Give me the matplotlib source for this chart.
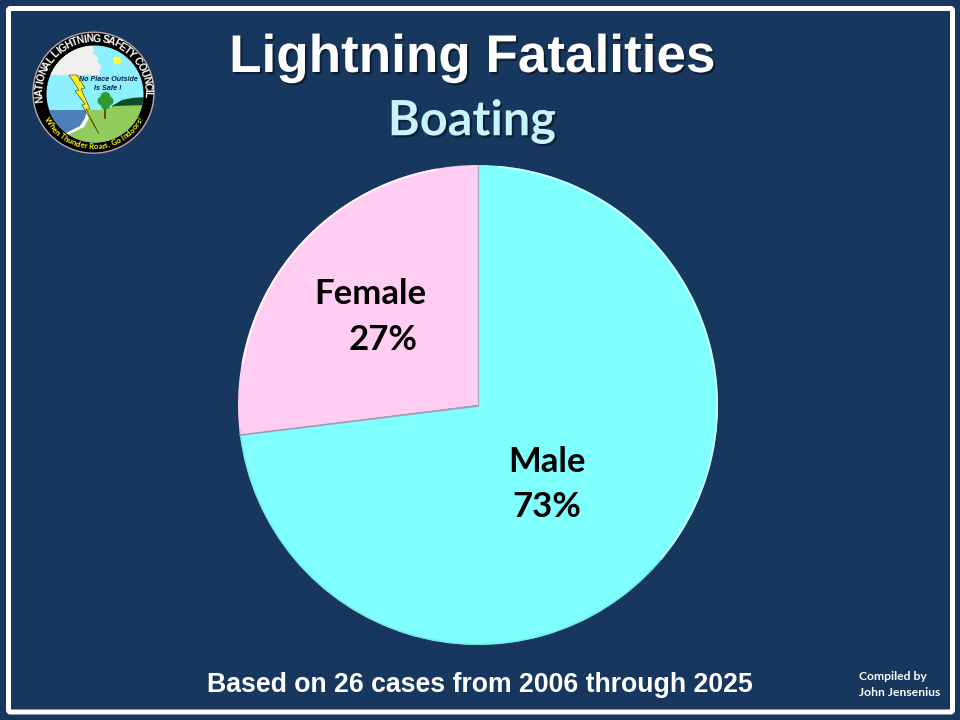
import numpy as np
import matplotlib
matplotlib.use("Agg")
import matplotlib.pyplot as plt
import matplotlib.patheffects as pe
from matplotlib.font_manager import FontProperties
from matplotlib.textpath import TextToPath
from matplotlib.patches import Circle, FancyBboxPatch, Polygon, Rectangle

categories = ["Male", "Female"]
shares = [73, 27]
slice_colors = ["#80FFFF", "#FFCCF2"]
title = "Lightning Fatalities"
subtitle = "Boating"
footer = "Based on 26 cases from 2006 through 2025"
credit = ["Compiled by", "John Jensenius"]
logo_top = "NATIONAL LIGHTNING SAFETY COUNCIL"
logo_bottom = "When Thunder Roars, Go Indoors!"
logo_mid = ["No Place Outside", "Is Safe !"]

BG = "#17375E"
W, H = 960, 720
fig = plt.figure(figsize=(9.6, 7.2), dpi=100, facecolor=BG)

bg = fig.add_axes([0, 0, 1, 1], zorder=0)
bg.set_xlim(0, W); bg.set_ylim(H, 0); bg.axis("off")
bg.add_patch(FancyBboxPatch((8.5, 8.5), 944, 703.5, boxstyle="round,pad=0,rounding_size=2",
                            fc="none", ec="white", lw=3.6))

# pie
cx, cy, r = 478, 405, 240
ax = fig.add_axes([(cx - r) / W, 1 - (cy + r) / H, 2 * r / W, 2 * r / H], zorder=1)
wedges, _ = ax.pie(shares, colors=slice_colors, startangle=90, counterclock=False, radius=1,
                   wedgeprops=dict(lw=0))
ax.set_xlim(-1, 1); ax.set_ylim(-1, 1); ax.set_aspect("equal")
for c in wedges:
    c.set_clip_on(False)

top = fig.add_axes([0, 0, 1, 1], zorder=2)
top.set_xlim(0, W); top.set_ylim(H, 0); top.axis("off"); top.patch.set_alpha(0)

def arc(a0, a1, rad=r - 1):
    t = np.radians(np.linspace(a0, a1, 200))
    return cx + rad * np.cos(t), cy - rad * np.sin(t)

x, y = arc(100, 170)
top.plot(x, y, color="white", lw=1.5, alpha=0.75, solid_capstyle="round")
x, y = arc(-40, 85)
top.plot(x, y, color="#D8FFFF", lw=1.4, alpha=0.8)
x, y = arc(186, 320)
top.plot(x, y, color="#6FDDE4", lw=1.2, alpha=0.5)
ang = np.radians(90 + 360 * shares[1] / 100)
ex, ey = cx + r * np.cos(ang), cy - r * np.sin(ang)
top.plot([cx, cx], [cy, cy - r], color="#A8A0B4", lw=1.0, alpha=0.8)
top.plot([cx, ex], [cy + 1, ey], color="#A08CA8", lw=1.2, alpha=0.8)

shadow = [pe.withSimplePatchShadow(offset=(1.5, -1.5), shadow_rgbFace="black", alpha=0.45)]
top.text(472, 58, title, family="Liberation Sans", weight="bold", fontsize=38.2, color="white",
         ha="center", va="center", path_effects=shadow)
top.text(472, 121, subtitle, family="Lato", weight="bold", fontsize=35, color="#C8F4FF",
         ha="center", va="center", path_effects=shadow)
top.text(480, 685, footer, family="Liberation Sans", weight="bold", fontsize=19.2, color="white",
         ha="center", va="center")
top.text(859, 677, credit[0], family="Lato", weight="bold", fontsize=8.7, color="white", ha="left", va="center")
top.text(859, 692, credit[1], family="Lato", weight="bold", fontsize=8.7, color="white", ha="left", va="center")

label_font = dict(family="Lato", weight="bold", fontsize=25, color="black", ha="center", va="center")
top.text(370, 294, categories[1], **label_font)
top.text(383, 340, f"{shares[1]}%", **label_font)
top.text(547, 462, categories[0], **label_font)
top.text(547, 507, f"{shares[0]}%", **label_font)

# logo
lx, ly = 93.5, 92.7
ix, iy, ir = 95, 94, 48.5
top.add_patch(Circle((lx, ly), 60.5, fc="black", ec="#B8A8A8", lw=1.0, zorder=3))
top.add_patch(Circle((ix, iy), ir, fc="#8CF0FF", ec="none", zorder=3.1))
clip = Circle((ix, iy), ir, transform=top.transData)

def clipped(p, z):
    p.set_zorder(z)
    top.add_patch(p)
    p.set_clip_path(clip)

clipped(Rectangle((40, 110), 60, 40, fc="#4F7FB8", ec="none"), 3.2)
clipped(Polygon([(112, 106), (122, 100), (132, 98), (146, 97), (146, 112), (112, 112)], fc="#0F4A2A", ec="none"), 3.25)
clipped(Polygon([(88, 110), (100, 110), (115, 106), (146, 105), (146, 146), (66, 146), (68, 133), (80, 129), (87, 120)],
                fc="#92CC5A", ec="none"), 3.3)
clipped(Polygon([(87, 110), (89, 118), (84, 127), (70, 134), (60, 136), (70, 131), (80, 126), (85, 118)],
                fc="white", ec="none"), 3.35)
# cloud
clipped(Polygon([(46, 75), (52, 70), (57, 60), (73, 47), (90, 45), (93, 55), (97, 62), (100, 72), (100, 75)],
                fc="#F0F0F0", ec="none"), 3.4)
for (ex_, ey_, er) in [(89, 50, 5), (93, 59, 5), (96, 67, 5), (64, 55, 7), (75, 49, 6), (56, 65, 6)]:
    clipped(Circle((ex_, ey_), er, fc="#F0F0F0", ec="none"), 3.4)
top.add_patch(Circle((117, 60.5), 4, fc="#FFFF33", ec="none", zorder=3.5))
# tree
top.plot([105.3, 105.3], [104, 118], color="#6B3A1E", lw=1.3, zorder=3.6)
for (tx, ty, tr) in [(105.5, 97, 5), (102, 101, 4.5), (109, 101, 4.5), (105.5, 105, 4.5)]:
    top.add_patch(Circle((tx, ty), tr, fc="#2F9A2F", ec="none", zorder=3.7))
# bolt
top.add_patch(Polygon([(69, 75), (77, 75), (85, 88), (81, 89), (90, 109), (86, 109), (99, 134),
                       (82, 105), (85, 104), (75, 91), (79, 90)],
                      fc="#FFEE22", ec="#333300", lw=0.4, zorder=3.8))
mid = dict(family="Liberation Sans", weight="bold", style="italic", fontsize=5.1, color="#10204A",
           ha="center", va="center", zorder=4)
top.text(108, 79.5, logo_mid[0], **mid)
top.text(108, 88, logo_mid[1], **mid)

ttp = TextToPath()

def ring_text(s, start, end, rad, family, size, color):
    prop = FontProperties(family=family, weight="bold", size=size)
    widths = np.array([ttp.get_text_width_height_descent(ch, prop, False)[0] for ch in s])
    edges = np.concatenate([[0], np.cumsum(widths)]) / widths.sum()
    for i, ch in enumerate(s):
        a = start + (end - start) * (edges[i] + edges[i + 1]) / 2
        t = np.radians(a)
        rot = a - 90 if end < start else a + 90
        top.text(lx + rad * np.cos(t), ly - rad * np.sin(t), ch, rotation=rot, rotation_mode="anchor",
                 ha="center", va="center", zorder=4, fontproperties=prop, color=color)

ring_text(logo_top, 190, -5, 54, "Liberation Sans", 7.4, "white")
ring_text(logo_bottom, 208, 332, 54, "Lato", 5.6, "#FFFF00")

fig.savefig("out.png", dpi=100, facecolor=BG)
